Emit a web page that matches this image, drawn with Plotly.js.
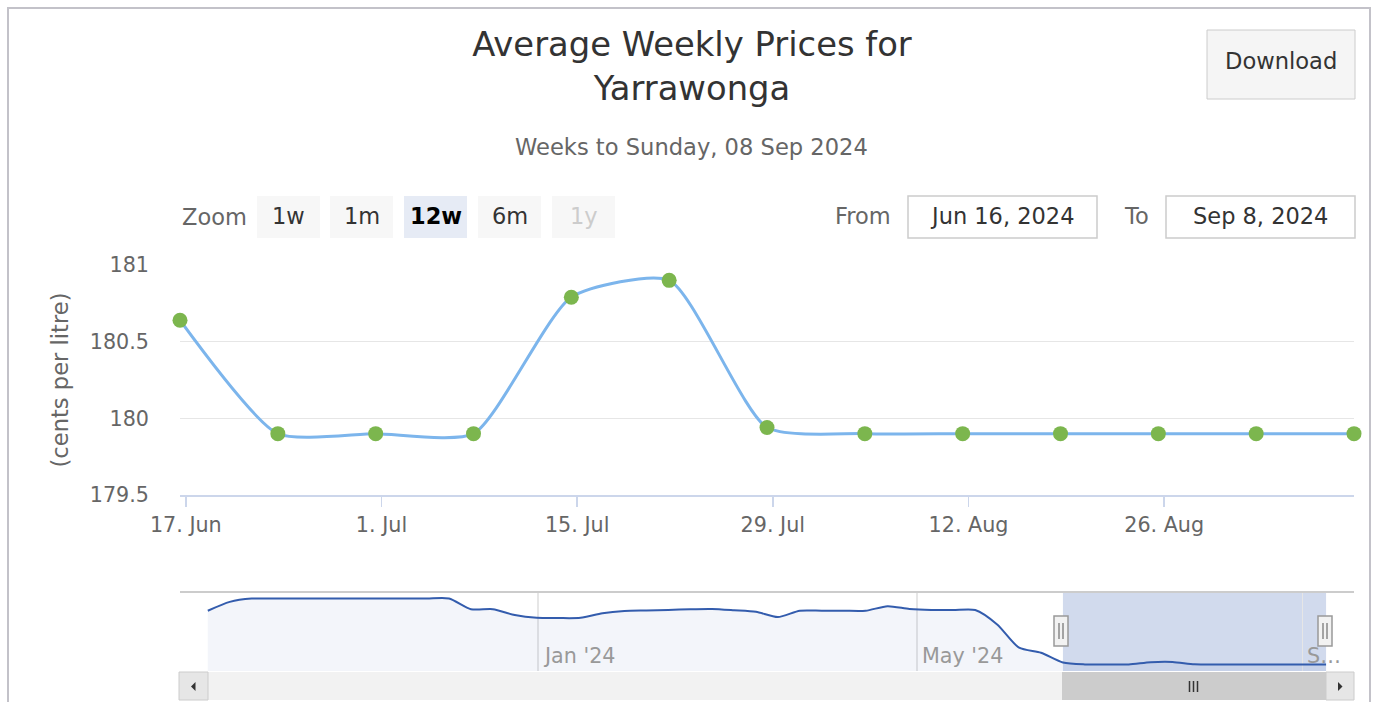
<!DOCTYPE html>
<html><head><meta charset="utf-8">
<script src="https://cdn.plot.ly/plotly-3.0.1.min.js"></script>
<style>html,body{margin:0;padding:0;background:#fff;overflow:hidden}#chart{width:1378px;height:702px}</style>
</head><body><div id="chart"></div>
<script>
// ---- data ----
const historyDates = ['2023-09-17','2023-09-24','2023-10-01','2023-10-08','2023-10-15','2023-10-22','2023-10-29',
  '2023-11-05','2023-11-12','2023-11-19','2023-11-26','2023-12-03','2023-12-10','2023-12-17','2023-12-24','2023-12-31',
  '2024-01-07','2024-01-14','2024-01-21','2024-01-28','2024-02-04','2024-02-11','2024-02-18','2024-02-25',
  '2024-03-03','2024-03-10','2024-03-17','2024-03-24','2024-03-31','2024-04-07','2024-04-14','2024-04-21','2024-04-28',
  '2024-05-05','2024-05-12','2024-05-19','2024-05-26','2024-06-02','2024-06-09'];
const historyPrices = [201.1,204.6,205.9,205.9,205.9,205.9,205.9,
  205.9,205.9,205.9,205.9,205.9,201.7,201.7,199.4,198.3,
  198.2,198.3,200.1,201.0,201.2,201.4,201.7,201.8,
  201.3,200.7,198.6,201.1,201.1,201.1,201.1,202.9,201.8,
  201.4,201.4,201.4,195.7,186.5,184.5];
const weekDates = ['2024-06-16','2024-06-23','2024-06-30','2024-07-07','2024-07-14','2024-07-21','2024-07-28',
  '2024-08-04','2024-08-11','2024-08-18','2024-08-25','2024-09-01','2024-09-08'];
const weekPrices = [180.64,179.9,179.9,179.9,180.79,180.9,179.94,179.9,179.9,179.9,179.9,179.9,179.9];
const xTickDates = ['2024-06-17','2024-07-01','2024-07-15','2024-07-29','2024-08-12','2024-08-26'];
const xTickLabels = ['17. Jun','1. Jul','15. Jul','29. Jul','12. Aug','26. Aug'];
const yTickVals = [179.5,180,180.5,181];
const yTickLabels = ['179.5','180','180.5','181'];
const navTickDates = ['2024-01-01','2024-05-01','2024-09-01'];
const navTickLabels = ["Jan '24","May '24","S…"];
const zoomButtons = ['1w','1m','12w','6m','1y'];

// ---- helpers ----
const W = 1378, H = 702;
const px = x => x / W, py = y => 1 - y / H;
const FONT = 'DejaVu Sans, Verdana, sans-serif';
// weekly points stamped at 14:00 UTC (midnight AEST)
const stamp = d => d + ' 14:00';

const mainX = weekDates.map(stamp);
const navX = historyDates.concat(weekDates).map(stamp);
const navY = historyPrices.concat(weekPrices);

const traces = [
  {x: navX, y: navY, xaxis: 'x2', yaxis: 'y2', type: 'scatter', mode: 'lines',
   line: {color: '#335cad', width: 2, shape: 'spline', smoothing: 0.7},
   fill: 'tozeroy', fillcolor: 'rgba(51,92,173,0.06)', hoverinfo: 'skip', showlegend: false},
  {x: mainX, y: weekPrices, xaxis: 'x', yaxis: 'y', type: 'scatter', mode: 'lines+markers',
   cliponaxis: false,
   line: {color: '#7cb5ec', width: 3, shape: 'spline', smoothing: 0.6},
   marker: {color: '#7cb64e', size: 15, line: {width: 0}},
   name: 'Average price', showlegend: false}
];

const shapes = [];
const ann = [];
function rect(x0, y0, x1, y1, fill, lineColor, lw, layer) {
  shapes.push({type: 'rect', xref: 'paper', yref: 'paper', x0: px(x0), x1: px(x1), y0: py(y0), y1: py(y1),
    fillcolor: fill, line: {color: lineColor || 'rgba(0,0,0,0)', width: lw || 0}, layer: layer || 'above'});
}
function line(x0, y0, x1, y1, color, w) {
  shapes.push({type: 'line', xref: 'paper', yref: 'paper', x0: px(x0), x1: px(x1), y0: py(y0), y1: py(y1),
    line: {color: color, width: w}, layer: 'above'});
}
function text(t, x, y, size, color, anchor, extra) {
  ann.push(Object.assign({text: t, xref: 'paper', yref: 'paper', x: px(x), y: py(y), showarrow: false,
    xanchor: anchor || 'center', yanchor: 'middle', font: {family: FONT, size: size, color: color}}, extra || {}));
}

// outer border
line(8, 7, 8, 702, '#c3c2c9', 2);
line(7, 8, 1370, 8, '#c3c2c9', 2);
line(1370, 7, 1370, 702, '#c3c2c9', 2);

// subtitle
text('Weeks to Sunday, 08 Sep 2024', 692, 147, 22.6, '#666666');

// download button
rect(1207, 30, 1355, 99, '#f5f5f5', '#cccccc', 1);
text('Download', 1281, 61, 22.6, '#333333');

// range selector
text('Zoom', 180, 217, 22.5, '#666666', 'left');
const btnX = [257, 330, 404, 478, 552];
zoomButtons.forEach((b, i) => {
  const sel = b === '12w', dis = b === '1y';
  rect(btnX[i], 196, btnX[i] + 63, 238, sel ? '#e6ebf5' : '#f7f7f7');
  text(sel ? '<b>' + b + '</b>' : b, btnX[i] + 31.5, 216, 22.5, sel ? '#000000' : (dis ? '#cccccc' : '#333333'));
});
text('From', 893, 216, 22.5, '#666666', 'right');
rect(908, 196, 1097, 238, '#ffffff', '#cccccc', 1.5);
text('Jun 16, 2024', 1002.5, 216, 22.5, '#333333');
text('To', 1151, 216, 22.5, '#666666', 'right');
rect(1166, 196, 1355, 238, '#ffffff', '#cccccc', 1.5);
text('Sep 8, 2024', 1260.5, 216, 22.5, '#333333');

// navigator selected mask (behind series)
shapes.push({type: 'rect', xref: 'x2', yref: 'paper', x0: mainX[0], x1: mainX[mainX.length - 1],
  y0: py(671), y1: py(592), fillcolor: 'rgba(102,133,194,0.3)', line: {width: 0}, layer: 'below'});
// navigator outline
line(180, 592, 1354, 592, '#cccccc', 2);
// navigator labels
navTickDates.forEach((d, i) => {
  ann.push({text: navTickLabels[i], xref: 'x2', yref: 'paper', x: d, y: py(656), xanchor: 'left', yanchor: 'middle',
    xshift: 3, showarrow: false, font: {family: FONT, size: 20.7, color: '#999999'}});
});

// scrollbar
rect(180, 672, 1354, 700, '#f2f2f2');
rect(1062, 672, 1326, 700, '#cccccc');
rect(179, 672, 208, 700, '#e6e6e6', '#cccccc', 1);
rect(1326, 672, 1354, 700, '#e6e6e6', '#cccccc', 1);
shapes.push({type: 'path', xref: 'paper', yref: 'paper', layer: 'above',
  path: `M ${px(195.5)} ${py(682)} L ${px(195.5)} ${py(691)} L ${px(191)} ${py(686.5)} Z`, fillcolor: '#333', line: {width: 0}});
shapes.push({type: 'path', xref: 'paper', yref: 'paper', layer: 'above',
  path: `M ${px(1338)} ${py(682)} L ${px(1338)} ${py(691)} L ${px(1342.5)} ${py(686.5)} Z`, fillcolor: '#333', line: {width: 0}});
[1189.5, 1193.5, 1197.5].forEach(x => line(x, 681, x, 692, '#333333', 1.5));

// handles
[1061, 1325].forEach(cx => {
  rect(cx - 7, 616, cx + 7, 646, '#f2f2f2', '#999999', 1.5);
  line(cx - 2, 623, cx - 2, 639, '#555555', 1);
  line(cx + 2, 623, cx + 2, 639, '#555555', 1);
});

const layout = {
  width: W, height: H,
  margin: {l: 0, r: 0, t: 0, b: 0, pad: 0},
  paper_bgcolor: '#ffffff', plot_bgcolor: 'rgba(0,0,0,0)',
  font: {family: FONT, color: '#666666'},
  title: {text: 'Average Weekly Prices for<br>Yarrawonga', x: 692 / W, xanchor: 'center',
    y: 1 - 56 / H, yanchor: 'middle', yref: 'container', font: {family: FONT, size: 33.8, color: '#333333'}},
  showlegend: false,
  hovermode: 'closest',
  xaxis: {domain: [px(180), px(1354)], anchor: 'y', type: 'date',
    range: [mainX[0], mainX[mainX.length - 1]],
    tickmode: 'array', tickvals: xTickDates, ticktext: xTickLabels,
    ticks: 'outside', ticklen: 10, tickcolor: '#ccd6eb', tickwidth: 1.5,
    showline: true, linecolor: '#ccd6eb', linewidth: 2, showgrid: false, zeroline: false,
    tickfont: {family: FONT, size: 20.7, color: '#666666'}},
  yaxis: {domain: [py(495), py(265)], anchor: 'x', range: [179.5, 181],
    tickmode: 'array', tickvals: yTickVals, ticktext: yTickLabels,
    showgrid: true, gridcolor: '#e6e6e6', gridwidth: 1.5, zeroline: false, showline: false, ticks: '',
    ticklabelstandoff: 30,
    tickfont: {family: FONT, size: 20.7, color: '#666666'},
    title: {text: '(cents per litre)', standoff: 14, font: {family: FONT, size: 22.6, color: '#666666'}}},
  xaxis2: {domain: [px(180), px(1354)], anchor: 'y2', type: 'date',
    range: ['2023-09-08 17:00', '2024-09-17 12:00'],
    tickmode: 'array', tickvals: navTickDates, showticklabels: false, ticks: '',
    showgrid: true, gridcolor: '#e6e6e6', gridwidth: 1.5, zeroline: false, showline: false},
  yaxis2: {domain: [py(671), py(592)], anchor: 'x2', range: [177.3, 208.5],
    showgrid: false, zeroline: false, showticklabels: false, ticks: '', showline: false},
  shapes: shapes,
  annotations: ann
};

Plotly.newPlot('chart', traces, layout, {displayModeBar: false, responsive: false, staticPlot: true});
</script>
</body></html>
